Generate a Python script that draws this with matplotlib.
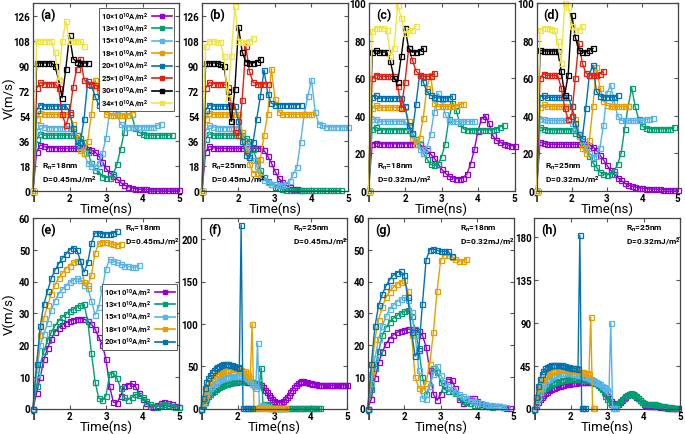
import numpy as np
import matplotlib.pyplot as plt
from matplotlib.lines import Line2D

plt.rcParams['font.family'] = ['Roboto', 'DejaVu Sans']
plt.rcParams['font.weight'] = 'bold'
plt.rcParams['mathtext.default'] = 'regular'

currents = ['10', '13', '15', '18', '20', '25', '30', '34']
colors = ['#9400D3', '#009E73', '#56B4E9', '#E69F00', '#0072B2', '#E51E10', '#000000', '#F0E442']

# ---- (a) Rn=18nm, D=0.45, step 0.1 ns from 1 ns
a10 = [0, 28, 33, 32, 31, 31, 31, 30.5, 30.5, 30.5, 30.5, 30.5, 30.5, 30.5, 30.5, 30, 29, 28, 25, 21,
       16, 13, 10.5, 8.4, 6, 4, 3, 2.2, 1.5, 1.2, 1, 0.9, 0.8, 0.7, 0.6, 0.5, 0.5, 0.5, 0.4, 0.4, 0.4]
a13 = [0, 37, 41, 40, 40, 40, 40, 40, 40, 40, 40, 40, 40, 38, 35, 28, 20, 15, 14, 10,
       9.5, 9.5, 12, 19, 30, 42, 65, 55, 45, 42, 41, 40, 40, 40, 40, 40, 40, 40, 40]
a15 = [0, 43, 47, 46, 45.5, 45.5, 45.5, 45.5, 45.5, 45.5, 45.5, 43, 36, 32, 27, 20, 18, 17, 20, 27,
       38, 57, 70, 55, 48, 46, 46, 46, 46, 46, 46, 46, 46, 46, 47, 48]
a18 = [0, 52, 56, 55, 55, 55, 55, 55, 55, 55, 55, 48, 38, 29, 27, 36, 55, 80, 71, 60,
       55, 54.5, 54.5, 54.5, 54.5, 54.5, 54.5, 55]
a20 = [0, 58, 62, 61, 61, 61, 61, 61, 61, 61, 57, 45, 33, 35, 52, 79, 76, 68, 62, 61, 61, 61, 61, 61]
a25 = [0, 74, 78, 77, 77, 77, 77, 74, 55, 47, 55, 75, 88, 95, 80, 77, 77, 76, 75, 73, 68]
a30 = [0, 92, 92, 92, 92, 92, 90, 80, 67, 88, 112, 95, 93, 92, 92, 92]
a34 = [0, 108, 108, 108, 108, 108, 100, 80, 108, 122, 108, 108, 108, 108, 104]

# ---- (b) Rn=25nm, D=0.45
b10 = [0, 28, 32, 31, 30.5, 30.5, 30.5, 30.5, 30.5, 30.5, 30.5, 30.5, 30.5, 30.5, 30.5, 30.5, 30.5, 29, 25, 20,
       14, 9, 6, 4, 2.5, 1.5, 1, 0.5]
b13 = [0, 37, 41, 40, 40, 40, 40, 40, 40, 40, 40, 40, 38, 36, 30, 22, 15, 10, 7, 5,
       3, 2, 1, 0.5, 0.2, 0.2, 0.2, 0.2, 0.2, 0.2, 0.2, 0.2, 0.2, 0.2, 0.2, 0.2, 0.2, 0.2, 0.2]
b15 = [0, 43, 47, 46, 45.5, 45.5, 45.5, 45.5, 45.5, 45.5, 45.5, 42, 33, 26, 22, 18, 10, 8, 6, 5,
       4.5, 4, 4, 5, 7, 12, 17, 35, 55, 68, 80, 57, 48, 47, 46, 46, 46, 46, 46, 46, 46]
b18 = [0, 52, 56, 55, 55, 55, 55, 55, 55, 55, 55, 42, 30, 19, 13, 13, 23, 40, 55, 88,
       66, 57, 55, 55, 55, 55, 55, 55, 55, 55, 55]
b20 = [0, 58, 62, 61, 61, 61, 61, 61, 61, 61, 50, 36, 26, 24, 35, 52, 68, 87, 70, 63,
       62, 62, 62, 62, 62, 62, 62, 62]
b25 = [0, 74, 78, 77, 77, 77, 77, 75, 62, 42, 40, 65, 104, 86, 78, 77, 77, 77, 77]
b30 = [0, 92, 92, 92, 92, 91, 90, 72, 50, 73, 118, 100, 93, 92, 92, 93, 95]
b34 = [0, 104, 108, 108, 107, 107, 97, 67, 97, 133, 108, 107, 107, 108, 110]

# ---- (c) Rn=18nm, D=0.32
c10 = [0, 25, 25.5, 25, 25, 25, 25, 25, 25, 25, 25, 25, 25, 25, 25, 23, 21.5, 19.5, 17.5, 14.5,
       11.5, 9.5, 7.8, 7, 6.5, 6.3, 7, 9, 14.5, 22, 32, 38.5, 40, 36, 29.5, 27, 26, 25, 24.5, 24, 24]
c13 = [0, 33, 34, 32.5, 32.5, 32.5, 32.5, 32.5, 32.5, 32.5, 32.5, 32.5, 30.5, 27.5, 25, 20, 17, 14, 13.5, 14,
       18, 25, 38, 47, 43, 36, 33, 32.5, 32.5, 32.5, 32.5, 32.5, 32.5, 32.5, 32.5, 33, 34, 35]
c15 = [0, 38, 38.5, 37, 37, 37, 37, 37, 37, 37, 37, 34, 30, 26.5, 22.5, 20, 23, 30, 42, 52,
       49, 41, 37, 37, 37, 37, 37, 37, 37, 37]
c18 = [0, 44, 45.5, 44.5, 44.5, 44.5, 44.5, 44.5, 44.5, 44.5, 44.5, 37, 28, 25, 28, 39, 55, 62, 47, 45,
       45, 45, 45, 45, 45, 46, 46.5]
c20 = [0, 50, 51, 49.5, 49.5, 49.5, 49.5, 49.5, 49.5, 49.5, 45, 35, 31, 46, 62, 58, 53, 51, 50, 49.5,
       49.5, 49.5, 49.5, 50.5]
c25 = [0, 60, 62, 61, 61, 61, 61, 61, 56, 44, 58, 76, 70, 64, 62, 61, 61, 61, 63]
c30 = [0, 74, 75, 74, 74, 74, 69, 60, 58, 72, 87, 76, 74, 74, 74.5, 76]
c34 = [0, 85, 87, 87, 87, 86, 72, 76, 99, 92, 84, 85.5, 85.5, 88]

# ---- (d) Rn=25nm, D=0.32
d10 = [0, 26, 25.5, 24.8, 24.8, 24.8, 24.8, 24.8, 24.8, 24.8, 24.8, 24.8, 24.8, 24.8, 24.8, 24.5, 23.5, 21.5, 19, 16.5,
       13.5, 11, 9, 7, 5.5, 4, 3, 2.5, 2, 1.6, 1.3, 1.1, 1, 0.9, 0.8, 0.7, 0.6, 0.5, 0.5, 0.4, 0.4]
d13 = [0, 34, 33, 32.5, 32.5, 32.5, 32.5, 32.5, 32.5, 32.5, 32.5, 31, 29, 26.5, 23, 18.5, 15, 12.5, 10, 9,
       8.4, 9, 10.5, 14, 20, 33, 45, 55, 45, 38, 34.5, 33.5, 33, 33, 33, 33, 33, 33, 33, 34]
d15 = [0, 38.5, 38, 37.5, 37.5, 37.5, 37.5, 37.5, 37.5, 37.5, 36, 33, 30, 27, 23.5, 20, 18, 18.5, 23, 35,
       52, 56.5, 48, 40, 37.5, 37.5, 37.5, 37.5, 37.5, 37.5, 37.5, 38, 38.5, 39]
d18 = [0, 44.5, 46, 45, 45, 45, 45, 45, 45, 45, 45, 38, 29, 23, 20, 27, 45, 66, 55, 48,
       45.5, 45, 45, 45, 45, 45, 45]
d20 = [0, 50, 51, 49.8, 49.8, 49.8, 49.8, 49.8, 49.8, 49.8, 45, 36, 30, 28, 44, 62, 67, 53, 50.5, 50,
       50, 50, 50, 51]
d25 = [0, 60, 62.5, 61.5, 61.5, 61.5, 61.5, 55, 44, 38, 40, 60, 79, 68, 63, 62, 61.5, 61.5, 62.5, 64]
d30 = [0, 75, 74.5, 74.5, 74.5, 74.5, 74.5, 64, 51, 62, 94, 82, 75, 74, 74, 75, 76]
d34 = [0, 86, 87, 87, 86.5, 86, 80, 68, 100, 98, 88, 85.5, 85.5, 88]

# ---- (e) Rn=18nm, D=0.45, step 0.1
e10 = [0, 5, 10, 15.5, 19, 22, 24, 25.5, 26.3, 27, 27.5, 28, 28.2, 28.3, 28.2, 27.5, 26.5, 25, 22.5, 20,
       15.5, 7, 2, 1.8, 4, 7, 7.5, 8, 7, 5, 3, 1.8, 0.8, 0.5, 1, 1.6, 1.9, 1.7, 1.3, 0.8, 0.5]
e13 = [0, 7, 14, 18, 21.5, 24, 26, 27.5, 28.8, 29.7, 30.7, 31.3, 32, 32.5, 32.8, 27.5, 17.6, 8.5, 3.3, 2.6,
       4, 10.8, 11.3, 9.5, 6.5, 3.5, 2.8, 3.5, 4.5, 4.2, 3.5, 2.5, 1.4, 0.8, 0.6, 1, 1.4, 1.2, 0.8, 0.5, 0.5]
e15 = [0, 11, 20, 23.5, 27, 31, 34, 36, 37.5, 38.6, 39.7, 40.5, 41, 40.5, 39, 38, 34, 29.5, 32, 38,
       44, 47, 46.5, 46, 45.5, 45, 44.8, 44.5, 44.5, 45.2]
e18 = [0, 14, 23, 28.5, 32.5, 36, 39, 41, 42.6, 44, 45, 46, 46.5, 46.5, 40, 39, 42, 49, 52, 52.5,
       52.3, 52, 51.7, 51.5, 51.8]
e20 = [0, 14, 26, 33, 37, 41, 43.5, 45.5, 47.3, 48.6, 50, 50.7, 50, 46.5, 43, 46, 52, 55.3, 55.3, 55,
       55, 55, 55.3, 55.8]

# ---- (f) Rn=25nm, D=0.45, step 0.05
f10 = [0, 5, 10, 14, 17, 19.5, 21.5, 23, 24.5, 26, 27,
       28, 28.8, 29.5, 30, 30.5, 31, 31.3, 31.6, 31.8, 32,
       32, 32, 32, 32, 31.8, 31.6, 31.3, 31, 30.5, 30,
       29.4, 28.5, 27.5, 25, 22, 19, 15.7, 13, 11, 9,
       7.8, 7, 7, 7.5, 9, 11, 13.5, 16, 19, 22,
       25, 27.5, 30, 31.5, 32, 32, 31.5, 31, 30.5, 30,
       29.5, 29, 28.6, 28.3, 28, 27.8, 27.6, 27.5, 27.4, 27.3,
       27.3, 27.3, 27.3, 27.4, 27.5, 27.5, 27.6, 27.6, 27.7, 27.7]
f13 = [0, 4, 8, 11.5, 14.5, 17, 19, 21, 22.5, 24, 25.5,
       26.5, 27.5, 28.5, 29.3, 30, 30.6, 31.2, 31.7, 32.1, 32.5,
       32.8, 33, 33, 33, 32.8, 32.5, 32, 31.3, 30.5, 29.5,
       28.5, 27.5, 48, 3, 5, 5.5, 4.5, 2, 1, 0.5,
       0.3, 0.3, 0.3, 0.3, 0.3, 0.3, 0.3, 0.3, 0.3, 0.3,
       0.3, 0.3, 0.3, 0.3, 0.3, 0.3, 0.3, 0.3, 0.3, 0.3,
       0.3, 0.3, 0.3, 0.3, 0.3]
f15 = [0, 6, 12, 17, 21, 24, 26.5, 28.5, 30.5, 32, 33.5,
       34.5, 35.5, 36.3, 37, 37.5, 38, 38.2, 38.4, 38.5, 38.5,
       38.3, 38, 37.5, 36.8, 35.8, 34.5, 32.5, 29.5, 26, 24,
       77, 2, 4, 4.5, 3.5, 2, 1, 0.5,
       0.3, 0.3, 0.3, 0.3, 0.3, 0.3, 0.3, 0.3]
f18 = [0, 8, 16, 22, 27, 31, 34, 36.5, 38.5, 40.5, 42,
       43.2, 44.2, 45, 45.5, 46, 46.2, 46.3, 46.3, 46.2, 46,
       45.7, 45.3, 44.7, 44, 42.5, 39, 36, 100, 0.5,
       0.3, 0.3, 0.3, 0.3, 0.3, 0.3, 0.3, 0.3, 0.3, 0.3,
       0.3, 0.3, 0.3, 0.3, 0.3, 0.3, 0.3]
f20 = [0, 12, 24, 31, 36, 40, 43, 45.5, 47.5, 49, 50.5,
       51.5, 52, 52.3, 52.3, 52, 51.5, 50.8, 50, 49.3, 48.8,
       48.3, 217, 0.5, 0.5, 0.5, 0.5, 0.5, 0.5]

# ---- (g) Rn=18nm, D=0.32, step 0.1
g10 = [0, 3, 9.5, 14.5, 17.8, 20.3, 22, 23.2, 24, 24.4, 24.7, 25, 25, 24.7, 24.3, 23, 19.5, 12, 4.5, 2.6,
       4.5, 7.5, 9.3, 9, 6.5, 3, 1.6, 2.3, 3.2, 3.3, 2.4, 1.5, 1, 0.9, 0.8, 0.9, 0.8, 0.4, 0.3, 0.3]
g13 = [0, 6, 12.6, 18, 23, 25.5, 27.2, 28.4, 29.3, 30, 30.6, 31, 29, 25, 19, 10, 4.5, 7, 12.6, 11.5,
       8.5, 6, 5.5, 5.5, 4.8, 3.5, 2.3, 2, 1.6, 1.2, 1, 0.9, 0.8, 0.7, 0.6, 0.7, 0.8, 0.6]
g15 = [0, 8, 16, 22, 26, 29, 31.3, 32.6, 33.7, 34.4, 35, 34.3, 30.5, 23, 12, 3.2, 3, 7, 11, 13.5,
       10.5, 8.5, 7, 6, 5.3, 4.7, 4, 3.4, 2.9, 2.3, 2, 1.7, 1.4, 1.2, 1, 0.9, 0.8, 0.6, 0.5]
g18 = [0, 11, 22, 28, 32, 35, 36.8, 38.2, 39.2, 40, 40.5, 37, 23, 10, 6.5, 5.8, 8, 14, 24, 37,
       46.8, 48.4, 48.2, 47.8, 47, 46.5, 46.3, 47.2]
g20 = [0, 14, 26, 32.5, 36, 38.6, 40.6, 42, 42.8, 43.2, 42, 35, 24, 16.5, 18.5, 33, 46.8, 50, 50.3, 49.8,
       49.5, 49.5, 49.7, 47.9]

# ---- (h) Rn=25nm, D=0.32, step 0.05
h10 = [0, 3, 6.5, 10, 12.5, 14.5, 16.3, 17.8, 19, 20.2, 21.2,
       22, 22.8, 23.5, 24.1, 24.6, 25, 25.4, 25.8, 26.1, 26.4,
       26.7, 27, 27.2, 27.4, 27.6, 27.8, 28, 28.1, 28.2, 28.2,
       28, 27.7, 27.2, 26.5, 25.5, 24, 22, 19.5, 16.5, 13.5,
       10.5, 8, 6, 4.8, 4.5, 5, 6.5, 8.5, 10.5, 12.5,
       14, 15, 15.3, 15, 14, 12.5, 10.5, 8.5, 6.5, 5,
       4, 3.3, 3, 3, 3, 2.8, 2.5, 2.2, 1.9, 1.6,
       1.3, 1.1, 0.9, 0.8, 0.7, 0.6, 0.6, 0.5, 0.5]
h13 = [0, 5, 10, 14, 17, 19.5, 21.5, 23, 24.5, 25.7, 26.7,
       27.5, 28.2, 28.8, 29.3, 29.7, 30, 30.3, 30.5, 30.7, 30.8,
       30.9, 31, 31, 31, 30.9, 30.8, 30.6, 30.3, 30, 29.5,
       29, 28.3, 27.5, 26.3, 24.8, 22.8, 20, 17, 13.5, 10,
       7, 5, 4, 3.5, 4, 5.5, 7.5, 9.5, 11.5, 13.3,
       14.6, 15.5, 15.8, 15.3, 14.3, 12.8, 11, 9, 7.2, 5.8,
       4.8, 4.3, 4.5, 5, 5, 4.6, 4, 3.5, 3, 2.6,
       2.2, 1.9, 1.6, 1.4, 1.2, 1, 0.8]
h15 = [0, 6, 12, 17, 21, 24.5, 27, 29.5, 31.3, 32.8, 34,
       35, 35.8, 36.4, 36.8, 37, 37.2, 37.2, 37.1, 37, 36.8,
       36.5, 36.2, 35.8, 35.4, 35, 34.5, 34, 33.4, 32.8, 32,
       31.2, 30.3, 29.3, 28.2, 27, 25.5, 24, 22.5, 21, 19,
       17.5, 90, 0.5, 0.5, 0.5]
h18 = [0, 9, 17, 23, 27.5, 31, 34, 36, 37.5, 38.8, 39.7,
       40.4, 40.9, 41.2, 41.3, 41.3, 41.2, 41, 40.8, 40.5, 40.2,
       39.9, 39.6, 39.3, 39, 38.7, 38.4, 38, 37.5, 37, 36,
       96, 0.5, 0.5]
h20 = [0, 12, 24, 31, 36, 39.5, 42, 43.5, 44.5, 45.3, 45.8,
       46, 46, 45.8, 45.5, 45.2, 44.8, 44.3, 43.8, 43.3, 43,
       42.7, 42.4, 42, 41.5, 182, 0.5, 0.5, 0.5]

panels = [
    # label, series, time step, y max, y ticks, Rn, D, text at bottom
    ('(a)', [a10, a13, a15, a18, a20, a25, a30, a34], 0.1, 135, range(0, 127, 18), '18', '0.45', True),
    ('(b)', [b10, b13, b15, b18, b20, b25, b30, b34], 0.1, 135, range(0, 127, 18), '25', '0.45', True),
    ('(c)', [c10, c13, c15, c18, c20, c25, c30, c34], 0.1, 100, range(0, 101, 20), '18', '0.32', True),
    ('(d)', [d10, d13, d15, d18, d20, d25, d30, d34], 0.1, 100, range(0, 101, 20), '25', '0.32', True),
    ('(e)', [e10, e13, e15, e18, e20], 0.1, 60, range(0, 61, 10), '18', '0.45', False),
    ('(f)', [f10, f13, f15, f18, f20], 0.05, 225, range(0, 201, 50), '25', '0.45', False),
    ('(g)', [g10, g13, g15, g18, g20], 0.1, 60, range(0, 61, 10), '18', '0.32', False),
    ('(h)', [h10, h13, h15, h18, h20], 0.05, 200, range(0, 181, 45), '25', '0.32', False),
]

# axes boxes in pixels: left, top, width, height
W, H = 685.0, 435.0
boxes = [
    (33, 4.3, 146, 187.4), (202, 4.3, 146, 187.4), (368.5, 4.3, 146, 187.4), (536.5, 4.3, 141, 187.4),
    (33, 219, 146, 190.5), (201, 219, 146, 190.5), (367.7, 219, 146, 190.5), (534.3, 219, 145.7, 190.5),
]

fig = plt.figure(figsize=(6.85, 4.35), dpi=100)

for (label, series, dt, ymax, yticks, rn, dval, top_row), (x0, y0, w, h) in zip(panels, boxes):
    ax = fig.add_axes([x0 / W, 1 - (y0 + h) / H, w / W, h / H])
    for vals, c in zip(series, colors):
        t = 1.0 + dt * np.arange(len(vals))
        ax.plot(t, vals, color=c, lw=1.0, marker='s', ms=3.6, mfc='none', mew=0.9, clip_on=False)
    ax.set_xlim(1, 5)
    ax.set_ylim(0, ymax)
    ax.set_xticks([1, 2, 3, 4, 5])
    ax.set_yticks(list(yticks))
    ax.tick_params(direction='in', top=True, right=True, labelsize=7, length=3, width=0.8, pad=2,
                   color='#555555')
    for s in ax.spines.values():
        s.set_linewidth(0.9)
        s.set_color('#444444')
    ax.set_xlabel('Time(ns)', fontsize=9.5, labelpad=-1)
    ax.text(0.05, 0.94, label, transform=ax.transAxes, fontsize=9, va='center', ha='left')
    txt = 'R$_n$=' + rn + 'nm\nD=' + dval + 'mJ/m$^2$'
    if top_row:
        ax.text(0.06, 0.03, txt, transform=ax.transAxes, fontsize=6, va='bottom', ha='left', linespacing=1.3)
    else:
        ax.text(0.63, 0.975, txt, transform=ax.transAxes, fontsize=6, va='top', ha='left', linespacing=1.3)
    if label in ('(a)', '(e)'):
        ax.set_ylabel('V(m/s)', fontsize=9.5)
        ax.yaxis.set_label_coords(-0.115, 0.5)
        n = len(series)
        handles = [Line2D([0], [0], color=colors[i], lw=1.2, marker='s', ms=3.5) for i in range(n)]
        labels = [currents[i] + '×10$^{10}$A/m$^2$' for i in range(n)]
        if label == '(a)':
            anchor = (0.966, 0.975)
        else:
            anchor = (0.986, 0.654)
        leg = ax.legend(handles, labels, loc='upper right', bbox_to_anchor=anchor, fontsize=5.5,
                        markerfirst=False, handlelength=2.6, handletextpad=0.4, labelspacing=0.15,
                        borderpad=0.3, borderaxespad=0, fancybox=False, framealpha=1, edgecolor='#444444')
        leg.get_frame().set_linewidth(0.6)

fig.savefig('out.png', dpi=100)
